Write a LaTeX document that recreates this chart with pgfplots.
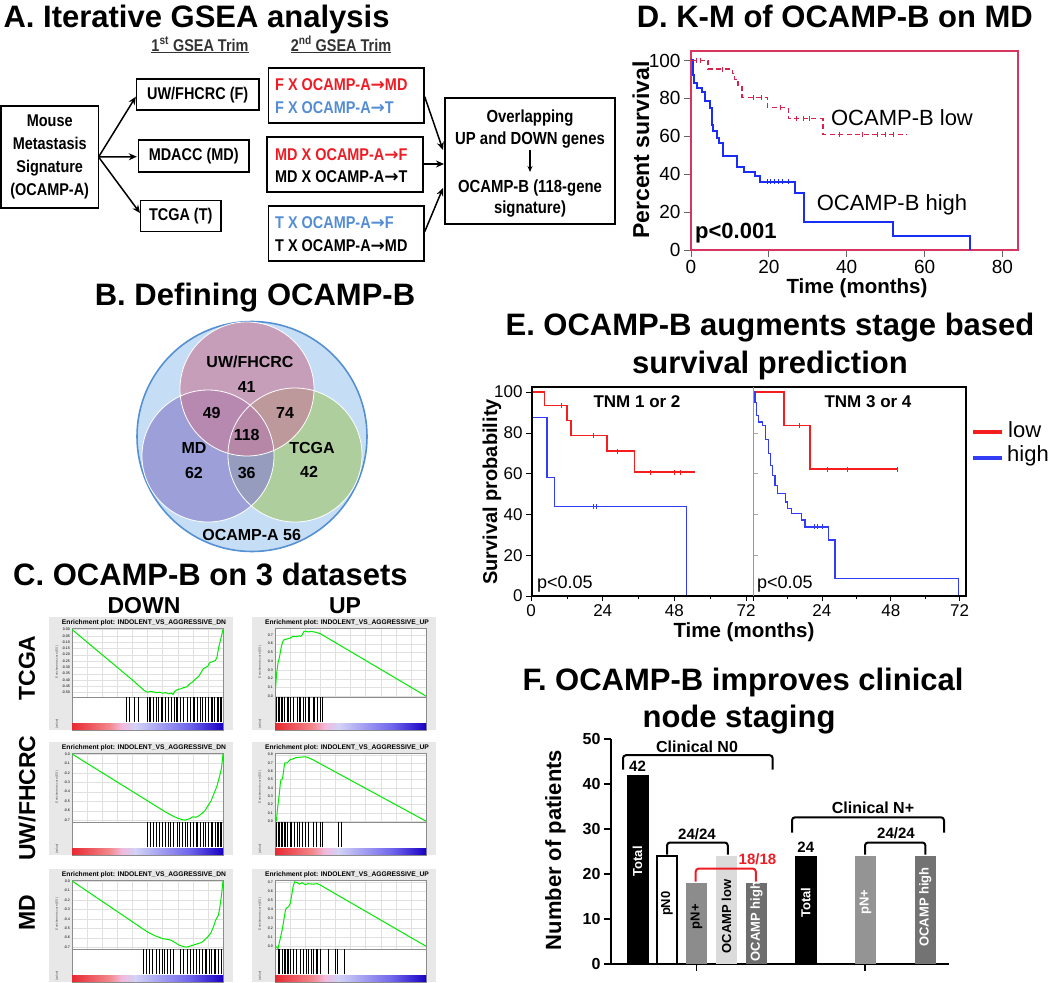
\documentclass[border=0pt]{standalone}
\usepackage{fontspec}
\setmainfont{Liberation Sans}
\newfontfamily\nf[FakeStretch=0.85]{Liberation Sans}
\newfontfamily\dv{DejaVu Sans}
\usepackage{pgfplots}
\pgfplotsset{compat=1.18,/pgf/number format/assume math mode=true}
\usetikzlibrary{arrows.meta}
\newcommand{\fs}[1]{\fontsize{#1}{#1}\selectfont}
\definecolor{fred}{RGB}{238,28,36}
\definecolor{fblue}{RGB}{84,141,212}
\definecolor{vbg}{RGB}{198,222,245}
\definecolor{vborder}{RGB}{85,145,210}
\definecolor{vpink}{RGB}{200,125,155}
\definecolor{vpurp}{RGB}{140,135,205}
\definecolor{vgreen}{RGB}{165,200,120}
\definecolor{gsred}{RGB}{232,40,48}
\definecolor{gspink}{RGB}{242,185,222}
\definecolor{gslav}{RGB}{210,210,246}
\definecolor{gsblue}{RGB}{110,100,235}
\definecolor{gsdark}{RGB}{25,0,195}
\definecolor{gsgreen}{RGB}{0,235,0}
\definecolor{kmred}{RGB}{215,35,75}
\definecolor{kmblue}{RGB}{25,45,245}
\definecolor{dframe}{RGB}{215,55,95}
\definecolor{ered}{RGB}{245,30,30}
\definecolor{eblue}{RGB}{50,60,245}
\newcommand{\ar}{{\dv\bfseries →}}
\pgfplotsset{p2/.style={yticklabel style={/pgf/number format/fixed,/pgf/number format/fixed zerofill,/pgf/number format/precision=2}},
 p1/.style={yticklabel style={/pgf/number format/fixed,/pgf/number format/fixed zerofill,/pgf/number format/precision=1}},
 km/.style={const plot,mark=none,solid,line cap=butt,line join=miter}}
\newcommand{\gsea}[8]{%
 \fill[black!9] (#1,#2) rectangle ({#1+184},{#2+113});
 \node[inner sep=0pt,font=\bfseries\fs{6.7}] at ({#1+95},{#2+5.5}) {Enrichment plot: INDOLENT\_VS\_AGGRESSIVE\_#3};
 \node[inner sep=0pt,rotate=90,font=\fs{3.2},text=black!70] at ({#1+8},{#2+45}) {Enrichment score (ES)};
 \node[inner sep=0pt,rotate=90,font=\fs{3.2},text=black!70] at ({#1+8},{#2+107}) {(value)};
 \pgfmathsetmacro{\gx}{#1+23}\pgfmathsetmacro{\gy}{-(#2+11)}\pgfmathsetmacro{\gyb}{-(#2+80)}
 \begin{axis}[at={(\gx pt,\gy pt)},anchor=north west,scale only axis,width=151pt,height=69pt,
   xmin=0,xmax=1,ymin=#4,ymax=#5,#6,xtick={0,0.1,...,1},xticklabels={},
   grid=major,major grid style={black!12,line width=0.3pt},
   axis background/.style={fill=white},
   axis line style={black!45,line width=0.4pt},tick style={draw=none},
   yticklabel style={font=\fs{3.6},xshift=1.5pt}]
 \addplot[draw=gsgreen,line width=1pt,mark=none] coordinates {#7};
 \end{axis}
 \begin{axis}[at={(\gx pt,\gyb pt)},anchor=north west,scale only axis,width=151pt,height=33pt,
   xmin=0,xmax=1,ymin=-0.3,ymax=1,ticks=none,axis background/.style={fill=white},
   axis line style={black!45,line width=0.4pt}]
 \shade[left color=gsred,right color=gsred!55!white] (axis cs:0,-0.28) rectangle (axis cs:0.25,-0.04);
 \shade[left color=gsred!55!white,right color=gspink] (axis cs:0.25,-0.28) rectangle (axis cs:0.33,-0.04);
 \shade[left color=gspink,right color=gslav] (axis cs:0.33,-0.28) rectangle (axis cs:0.42,-0.04);
 \shade[left color=gslav,right color=gsblue] (axis cs:0.42,-0.28) rectangle (axis cs:0.78,-0.04);
 \shade[left color=gsblue,right color=gsdark] (axis cs:0.78,-0.28) rectangle (axis cs:1,-0.04);
 \addplot[ycomb,draw=black,line width=0.5pt,mark=none] coordinates {#8};
 \end{axis}
}
\begin{document}
\begin{tikzpicture}[x=1pt,y=-1pt]
\useasboundingbox (0,0) rectangle (1050,983);
% ---------------- Panel A
\node[inner sep=0pt,anchor=base west,font=\bfseries\fs{31}] at (3.4,27) {A. Iterative GSEA analysis};
\node[inner sep=0pt,anchor=base,font=\nf\bfseries\fs{17},text=black!80] at (200,51) {\underline{1\textsuperscript{st} GSEA Trim}};
\node[inner sep=0pt,anchor=base,font=\nf\bfseries\fs{17},text=black!80] at (341,51) {\underline{2\textsuperscript{nd} GSEA Trim}};
\begin{scope}[line width=1.4pt]
\draw (0.8,106) rectangle (98.6,208);
\draw (136.5,79) rectangle (259,110);
\draw (138.5,140) rectangle (249,172);
\draw (140.5,200.7) rectangle (221,231.7);
\draw (268.6,68) rectangle (424,123);
\draw (267,137) rectangle (423,192);
\draw (268.6,206) rectangle (424,261);
\draw (445,98) rectangle (615,224);
\end{scope}
\node[inner sep=0pt,align=center,font=\nf\bfseries\fontsize{17}{23}\selectfont] at (49.7,157) {Mouse\\Metastasis\\Signature\\(OCAMP-A)};
\node[inner sep=0pt,font=\nf\bfseries\fs{17}] at (197.7,95) {UW/FHCRC (F)};
\node[inner sep=0pt,font=\nf\bfseries\fs{17}] at (193.7,156) {MDACC (MD)};
\node[inner sep=0pt,font=\nf\bfseries\fs{17}] at (180.7,216) {TCGA (T)};
\begin{scope}[every node/.style={inner sep=0pt,anchor=west,font=\nf\bfseries\fs{17}}]
\node[text=fred] at (275,85) {F X OCAMP-A\ar MD};
\node[text=fblue] at (275,107.3) {F X OCAMP-A\ar T};
\node[text=fred] at (275,155) {MD X OCAMP-A\ar F};
\node at (275,176.7) {MD X OCAMP-A\ar T};
\node[text=fblue] at (275,222.7) {T X OCAMP-A\ar F};
\node at (275,246) {T X OCAMP-A\ar MD};
\end{scope}
\begin{scope}[every node/.style={inner sep=0pt,anchor=base,font=\nf\bfseries\fs{17.5}}]
\node at (530,122) {Overlapping};
\node at (530,144) {UP and DOWN genes};
\node at (530,192) {OCAMP-B (118-gene};
\node at (530,213) {signature)};
\end{scope}
\draw[line width=1.2pt,-{Stealth[length=6pt,width=5pt]}] (530,150) -- (530,172);
\begin{scope}[line width=1.5pt,-{Stealth[length=8pt,width=7pt]}]
\draw (98.6,157) -- (135.8,96.7);
\draw (98.6,157) -- (136.8,156.7);
\draw (98.6,157) -- (140,213);
\draw (424.7,96.7) -- (443,150);
\draw (423,164) -- (444,164);
\draw (424.7,231.7) -- (443,188);
\end{scope}
% ---------------- Panel B
\node[inner sep=0pt,anchor=base,font=\bfseries\fs{31}] at (255,305) {B. Defining OCAMP-B};
\fill[vbg] (252,436.5) circle (115pt);
\draw[vborder,line width=1.6pt] (252,436.5) circle (115pt);
\fill[vgreen,fill opacity=0.7] (295,455) circle (67pt);
\fill[vpurp,fill opacity=0.7] (208,456) circle (66pt);
\fill[vpink,fill opacity=0.65] (247,389) circle (67pt);
\draw[white,line width=0.8pt] (208,456) circle (66pt);
\draw[white,line width=0.8pt] (295,455) circle (67pt);
\draw[white,line width=0.8pt] (247,389) circle (67pt);
\begin{scope}[every node/.style={inner sep=0pt,font=\bfseries\fs{16}}]
\node at (250,362) {UW/FHCRC};
\node at (246.7,387) {41};
\node at (211.7,413) {49};
\node at (285,413) {74};
\node at (246.7,435) {118};
\node at (194,448) {MD};
\node at (194,473) {62};
\node at (246.7,473) {36};
\node at (312,448) {TCGA};
\node at (309,472) {42};
\node at (251.7,535) {OCAMP-A 56};
\end{scope}
% ---------------- Panel C
\node[inner sep=0pt,anchor=base west,font=\bfseries\fs{31}] at (13,585) {C. OCAMP-B on 3 datasets};
\node[inner sep=0pt,anchor=base,font=\bfseries\fs{23}] at (144,613) {DOWN};
\node[inner sep=0pt,anchor=base,font=\bfseries\fs{23}] at (345,613) {UP};
\node[inner sep=0pt,rotate=90,font=\bfseries\fs{23}] at (27,668) {TCGA};
\node[inner sep=0pt,rotate=90,font=\bfseries\fs{23}] at (27,798) {UW/FHCRC};
\node[inner sep=0pt,rotate=90,font=\bfseries\fs{23}] at (27,913) {MD};
\gsea{49}{617}{DN}{-0.535}{0.012}{ytick={0,-0.05,...,-0.5},p2}
{(0,0) (0.1,-0.1) (0.2,-0.2) (0.3,-0.3) (0.4,-0.4) (0.48,-0.485) (0.5,-0.497) (0.52,-0.49) (0.54,-0.495) (0.56,-0.5) (0.58,-0.497) (0.6,-0.505) (0.62,-0.5) (0.64,-0.51) (0.66,-0.505) (0.67,-0.515) (0.68,-0.49) (0.7,-0.475) (0.72,-0.47) (0.74,-0.46) (0.76,-0.455) (0.78,-0.43) (0.8,-0.415) (0.82,-0.39) (0.84,-0.37) (0.86,-0.33) (0.87,-0.31) (0.88,-0.305) (0.9,-0.29) (0.91,-0.265) (0.93,-0.255) (0.95,-0.245) (0.96,-0.22) (0.97,-0.15) (0.98,-0.1) (0.99,-0.05) (1,0)}
{(0.36,1)(0.38,1)(0.41,1)(0.44,1)(0.5,1)(0.51,1)(0.52,1)(0.54,1)(0.56,1)(0.57,1)(0.59,1)(0.6,1)(0.62,1)(0.64,1)(0.66,1)(0.68,1)(0.69,1)(0.7,1)(0.72,1)(0.74,1)(0.76,1)(0.78,1)(0.8,1)(0.81,1)(0.83,1)(0.85,1)(0.86,1)(0.88,1)(0.9,1)(0.92,1)(0.93,1)(0.94,1)(0.96,1)(0.97,1)(0.98,1)(0.99,1)}
\gsea{252}{617}{UP}{-0.01}{0.78}{ytick={0,0.1,...,0.7},p1}
{(0,0) (0.005,0.12) (0.01,0.25) (0.02,0.38) (0.03,0.45) (0.04,0.55) (0.05,0.62) (0.06,0.645) (0.08,0.655) (0.1,0.665) (0.12,0.685) (0.14,0.68) (0.16,0.69) (0.17,0.685) (0.18,0.7) (0.19,0.735) (0.2,0.745) (0.22,0.735) (0.24,0.74) (0.26,0.735) (0.3,0.715) (1,0)}
{(0.005,1)(0.01,1)(0.02,1)(0.03,1)(0.04,1)(0.05,1)(0.06,1)(0.08,1)(0.09,1)(0.1,1)(0.12,1)(0.15,1)(0.16,1)(0.17,1)(0.19,1)(0.2,1)(0.22,1)(0.23,1)(0.25,1)(0.26,1)(0.28,1)(0.3,1)(0.315,1)}
\gsea{49}{742}{DN}{-0.72}{0.01}{ytick={0,-0.1,...,-0.7},p1}
{(0,0) (0.62,-0.615) (0.66,-0.65) (0.7,-0.68) (0.73,-0.695) (0.75,-0.7) (0.77,-0.69) (0.79,-0.675) (0.8,-0.665) (0.82,-0.67) (0.84,-0.655) (0.86,-0.63) (0.88,-0.6) (0.9,-0.55) (0.92,-0.5) (0.94,-0.42) (0.96,-0.34) (0.97,-0.28) (0.98,-0.22) (0.99,-0.15) (1,0)}
{(0.5,1)(0.52,1)(0.54,1)(0.56,1)(0.58,1)(0.6,1)(0.62,1)(0.64,1)(0.65,1)(0.67,1)(0.7,1)(0.71,1)(0.73,1)(0.75,1)(0.76,1)(0.78,1)(0.8,1)(0.82,1)(0.83,1)(0.85,1)(0.87,1)(0.88,1)(0.9,1)(0.92,1)(0.93,1)(0.95,1)(0.96,1)(0.97,1)(0.98,1)(0.99,1)}
\gsea{252}{742}{UP}{-0.01}{0.82}{ytick={0,0.1,...,0.8},p1}
{(0,0) (0.01,0.01) (0.015,0.12) (0.02,0.2) (0.03,0.35) (0.035,0.45) (0.04,0.5) (0.05,0.51) (0.055,0.58) (0.06,0.65) (0.065,0.7) (0.08,0.7) (0.1,0.74) (0.12,0.75) (0.14,0.765) (0.17,0.77) (0.2,0.775) (0.22,0.765) (0.25,0.74) (1,0)}
{(0.01,1)(0.02,1)(0.025,1)(0.03,1)(0.04,1)(0.05,1)(0.06,1)(0.07,1)(0.08,1)(0.1,1)(0.11,1)(0.13,1)(0.15,1)(0.16,1)(0.18,1)(0.2,1)(0.22,1)(0.25,1)(0.27,1)(0.3,1)(0.31,1)(0.42,1)(0.44,1)}
\gsea{49}{869}{DN}{-0.72}{0.01}{ytick={0,-0.1,...,-0.7},p1}
{(0,0) (0.5,-0.54) (0.55,-0.58) (0.6,-0.61) (0.64,-0.62) (0.66,-0.63) (0.68,-0.65) (0.71,-0.68) (0.74,-0.695) (0.76,-0.7) (0.78,-0.69) (0.8,-0.68) (0.83,-0.665) (0.86,-0.65) (0.88,-0.62) (0.9,-0.59) (0.92,-0.55) (0.94,-0.47) (0.95,-0.42) (0.97,-0.36) (0.98,-0.27) (0.99,-0.15) (1,0)}
{(0.47,1)(0.49,1)(0.51,1)(0.53,1)(0.56,1)(0.58,1)(0.6,1)(0.61,1)(0.63,1)(0.65,1)(0.67,1)(0.72,1)(0.74,1)(0.76,1)(0.78,1)(0.8,1)(0.82,1)(0.84,1)(0.86,1)(0.88,1)(0.89,1)(0.91,1)(0.92,1)(0.94,1)(0.95,1)(0.97,1)(0.99,1)}
\gsea{252}{869}{UP}{-0.03}{0.72}{ytick={0,0.1,...,0.7},p1}
{(0,0) (0.01,-0.01) (0.02,-0.025) (0.03,0.05) (0.04,0.12) (0.05,0.2) (0.06,0.3) (0.07,0.4) (0.08,0.42) (0.09,0.43) (0.1,0.46) (0.11,0.55) (0.12,0.65) (0.13,0.7) (0.15,0.69) (0.16,0.675) (0.18,0.69) (0.2,0.67) (0.22,0.68) (0.25,0.675) (0.28,0.68) (0.3,0.665) (1,0)}
{(0.02,1)(0.03,1)(0.05,1)(0.06,1)(0.07,1)(0.08,1)(0.09,1)(0.1,1)(0.12,1)(0.14,1)(0.17,1)(0.19,1)(0.21,1)(0.22,1)(0.24,1)(0.25,1)(0.27,1)(0.28,1)(0.3,1)(0.35,1)(0.4,1)(0.41,1)(0.46,1)}
% ---------------- Panel D
\node[inner sep=0pt,anchor=base east,font=\bfseries\fs{31}] at (1033,27) {D. K-M of OCAMP-B on MD};
\begin{axis}[at={(691pt,-51pt)},anchor=north west,scale only axis,width=327pt,height=199pt,
 xmin=0,xmax=84,ymin=0,ymax=105,xtick={0,20,...,80},ytick={0,20,...,100},
 axis line style={dframe,line width=1.2pt},tick align=outside,tick pos=left,
 major tick length=7pt,tick style={black!60,line width=0.8pt},
 tick label style={font=\fs{19}},clip=false]
\addplot[km,draw=kmblue,line width=2pt] coordinates {(0,100) (0.4,92.6) (0.85,88.2) (1.5,85.5) (2.75,83.2) (3.6,78.5) (4.9,75) (5.3,66) (5.7,62.6) (6.6,59) (7.3,56.4) (8.1,49.4) (11.7,44) (13.5,41.4) (16.5,38.8) (17.7,36.1) (26.7,30) (28.9,15) (52,7.6) (71.7,0)};
\addplot[km,draw=kmred,line width=1.5pt,dash pattern=on 5pt off 3.5pt] coordinates {(0,100) (4.4,95.5) (10.7,93) (11.2,90) (12.1,86) (13.1,80.5) (19.6,75.3) (25,69.3) (33.9,61) (55.4,61)};
\addplot[only marks,mark=|,mark size=2.5pt,mark options={solid,draw=kmred,line width=0.8pt}] coordinates {(1.5,100) (2.5,100) (8,95.5) (16,80.5) (18,80.5) (23,75.3) (27,69.3) (29,69.3) (30.5,69.3) (38,61) (44,61) (48,61) (50,61) (52,61)};
\addplot[only marks,mark=|,mark size=2.5pt,mark options={solid,draw=kmblue,line width=0.8pt}] coordinates {(19.5,36.1) (20.5,36.1) (21.5,36.1) (22.5,36.1) (23.5,36.1) (25,36.1)};
\end{axis}
\node[inner sep=0pt,font=\fs{22}] at (902,118) {OCAMP-B low};
\node[inner sep=0pt,font=\fs{22}] at (892,205) {OCAMP-B high};
\node[inner sep=0pt,anchor=west,font=\bfseries\fs{22}] at (695,233) {p<0.001};
\node[inner sep=0pt,anchor=base,font=\bfseries\fs{20.5}] at (857,293) {Time (months)};
\node[inner sep=0pt,rotate=90,font=\bfseries\fs{23}] at (641,150) {Percent survival};
% ---------------- Panel E
\node[inner sep=0pt,anchor=base,font=\bfseries\fs{31}] at (770,335) {E. OCAMP-B augments stage based};
\node[inner sep=0pt,anchor=base,font=\bfseries\fs{31}] at (770,373) {survival prediction};
\begin{axis}[at={(531pt,-387pt)},anchor=north west,scale only axis,width=222pt,height=209pt,
 xmin=0,xmax=74.3,ymin=0,ymax=102.5,axis line style={draw=none},
 xtick={0,24,48,72},minor xtick={12,36,60},ytick={0,20,...,100},
 tick align=outside,tick pos=left,major tick length=5pt,minor tick length=3pt,
 tick style={black,line width=0.7pt},tick label style={font=\fs{17}},clip=false]
\addplot[km,draw=ered,line width=1.4pt] coordinates {(0,100) (4.6,93.5) (12.1,86) (13.4,78.8) (25.4,71.1) (34.7,60.8) (55,60.8)};
\addplot[km,draw=eblue,line width=1.4pt] coordinates {(0,100) (0.4,87.6) (5.3,58) (7.8,43.8) (52,0)};
\addplot[only marks,mark=|,mark size=2.5pt,mark options={draw=ered,line width=0.7pt}] coordinates {(10,93.5) (21,78.8) (29,71.1) (40,60.8) (48,60.8) (50,60.8)};
\addplot[only marks,mark=|,mark size=2.5pt,mark options={draw=eblue,line width=0.7pt}] coordinates {(21,43.8) (22,43.8)};
\end{axis}
\begin{axis}[at={(753pt,-387pt)},anchor=north west,scale only axis,width=213pt,height=209pt,
 xmin=0,xmax=74.2,ymin=0,ymax=102.5,axis line style={draw=none},
 xtick={0,24,48,72},xticklabels={,24,48,72},minor xtick={12,36,60},ytick={20,40,60,80},yticklabels={},
 tick pos=left,xtick align=outside,ytick align=inside,major tick length=5pt,minor tick length=3pt,
 xtick style={black,line width=0.7pt},ytick style={black!35,line width=0.6pt},
 tick label style={font=\fs{17}},clip=false]
\addplot[km,draw=ered,line width=1.4pt] coordinates {(0,100) (10.75,83.5) (19.8,62.2) (50.4,62.2)};
\addplot[km,draw=eblue,line width=1.4pt] coordinates {(0,100) (0.7,95) (1.3,88.6) (2.0,85.3) (3.4,83.7) (4.4,76.7) (5.4,69.8) (6.0,64.1) (6.7,59.2) (7.7,54.3) (8.5,50.2) (11.4,46.2) (12.1,42.9) (13.4,40.5) (16.8,37.2) (18.1,33.9) (26.2,27.4) (28.6,8.6) (71.5,0)};
\addplot[only marks,mark=|,mark size=2.5pt,mark options={draw=ered,line width=0.7pt}] coordinates {(16,83.5) (26,62.2) (33,62.2) (50.4,62.2)};
\addplot[only marks,mark=|,mark size=2.5pt,mark options={draw=eblue,line width=0.7pt}] coordinates {(21.5,33.9) (22.5,33.9) (24,33.9)};
\end{axis}
\draw[line width=1.5pt] (532,387) rectangle (966,596);
\draw[black!40,line width=0.8pt] (753,387) -- (753,596);
\node[inner sep=0pt,anchor=base,font=\bfseries\fs{17}] at (637,407) {TNM 1 or 2};
\node[inner sep=0pt,anchor=base,font=\bfseries\fs{17}] at (868,407) {TNM 3 or 4};
\node[inner sep=0pt,anchor=base west,font=\fs{18}] at (537,588) {p<0.05};
\node[inner sep=0pt,anchor=base west,font=\fs{18}] at (757,588) {p<0.05};
\node[inner sep=0pt,rotate=90,font=\bfseries\fs{20}] at (492,492) {Survival probability};
\node[inner sep=0pt,anchor=base,font=\bfseries\fs{20.5}] at (744,637) {Time (months)};
\draw[ered,line width=4pt] (973,432) -- (1002,432);
\draw[eblue,line width=4pt] (973,458) -- (1002,458);
\node[inner sep=0pt,anchor=west,font=\fs{22}] at (1008,430) {low};
\node[inner sep=0pt,anchor=west,font=\fs{22}] at (1007,456) {high};
% ---------------- Panel F
\node[inner sep=0pt,anchor=base,font=\bfseries\fs{31}] at (743,690) {F. OCAMP-B improves clinical};
\node[inner sep=0pt,anchor=base,font=\bfseries\fs{31}] at (739,727) {node staging};
\begin{axis}[at={(611pt,-964pt)},anchor=south west,scale only axis,width=338pt,height=225pt,
 xmin=0,xmax=338,ymin=0,ymax=50,axis x line=bottom,axis y line=left,
 axis line style={line width=1.6pt,-},xtick={85.5,254},xticklabels={},ytick={0,10,...,50},
 tick align=outside,major tick length=7pt,tick style={line width=1.6pt,black},
 yticklabel style={font=\bfseries\fs{16}},clip=false]
\addplot[ybar,bar width=21.5,bar shift=0pt,fill=black,draw=black] coordinates {(26.5,42)};
\addplot[ybar,bar width=20,bar shift=0pt,fill=white,draw=black,line width=1.5pt] coordinates {(56,24)};
\addplot[ybar,bar width=21.5,bar shift=0pt,fill=black!45,draw=none] coordinates {(85.5,18)};
\addplot[ybar,bar width=21.5,bar shift=0pt,fill=black!14,draw=none] coordinates {(115.5,24)};
\addplot[ybar,bar width=21.5,bar shift=0pt,fill=black!57,draw=none] coordinates {(145.6,18)};
\addplot[ybar,bar width=21.5,bar shift=0pt,fill=black,draw=black] coordinates {(194.8,24)};
\addplot[ybar,bar width=21.5,bar shift=0pt,fill=black!42,draw=none] coordinates {(254.4,24)};
\addplot[ybar,bar width=21.5,bar shift=0pt,fill=black!55,draw=none] coordinates {(314.3,24)};
\addplot[draw=black,line width=2pt,rounded corners=3pt] coordinates {(12,43.2) (12,46.4) (161.7,46.4) (161.7,43.2)};
\addplot[draw=black,line width=2pt,rounded corners=3pt] coordinates {(56,24.3) (56,27) (116.8,27) (116.8,24.3)};
\addplot[draw=fred,line width=2pt,rounded corners=3pt] coordinates {(84.7,18.3) (84.7,21.2) (144.8,21.2) (144.8,18.3)};
\addplot[draw=black,line width=2pt,rounded corners=3pt] coordinates {(181,29.2) (181,32.6) (333,32.6) (333,29.2)};
\addplot[draw=black,line width=2pt,rounded corners=3pt] coordinates {(254,24.3) (254,27) (314.4,27) (314.4,24.3)};
\begin{scope}[every node/.style={inner sep=0pt,rotate=90,font=\bfseries\fs{13}}]
\node[text=white] at (axis cs:26.5,22.8) {Total};
\node at (axis cs:56,13.4) {pN0};
\node at (axis cs:85.5,10.5) {pN+};
\node at (axis cs:115.5,10.6) {OCAMP low};
\node[text=white] at (axis cs:145.6,9.4) {OCAMP high};
\node[text=white] at (axis cs:194.8,13.6) {Total};
\node[text=white] at (axis cs:254.4,13.8) {pN+};
\node[text=white] at (axis cs:314.3,12.7) {OCAMP high};
\end{scope}
\node[inner sep=0pt,font=\bfseries\fs{15}] at (axis cs:26.5,44) {42};
\node[inner sep=0pt,font=\bfseries\fs{15}] at (axis cs:194.8,25.9) {24};
\node[inner sep=0pt,font=\bfseries\fs{16}] at (axis cs:86,48.3) {Clinical N0};
\node[inner sep=0pt,font=\bfseries\fs{15}] at (axis cs:86,28.9) {24/24};
\node[inner sep=0pt,font=\bfseries\fs{15},text=fred] at (axis cs:146.5,23.2) {18/18};
\node[inner sep=0pt,font=\bfseries\fs{16}] at (axis cs:262,34.8) {Clinical N+};
\node[inner sep=0pt,font=\bfseries\fs{15}] at (axis cs:285,29.1) {24/24};
\end{axis}
\node[inner sep=0pt,rotate=90,font=\bfseries\fs{22}] at (555.5,850) {Number of patients};
\end{tikzpicture}
\end{document}
